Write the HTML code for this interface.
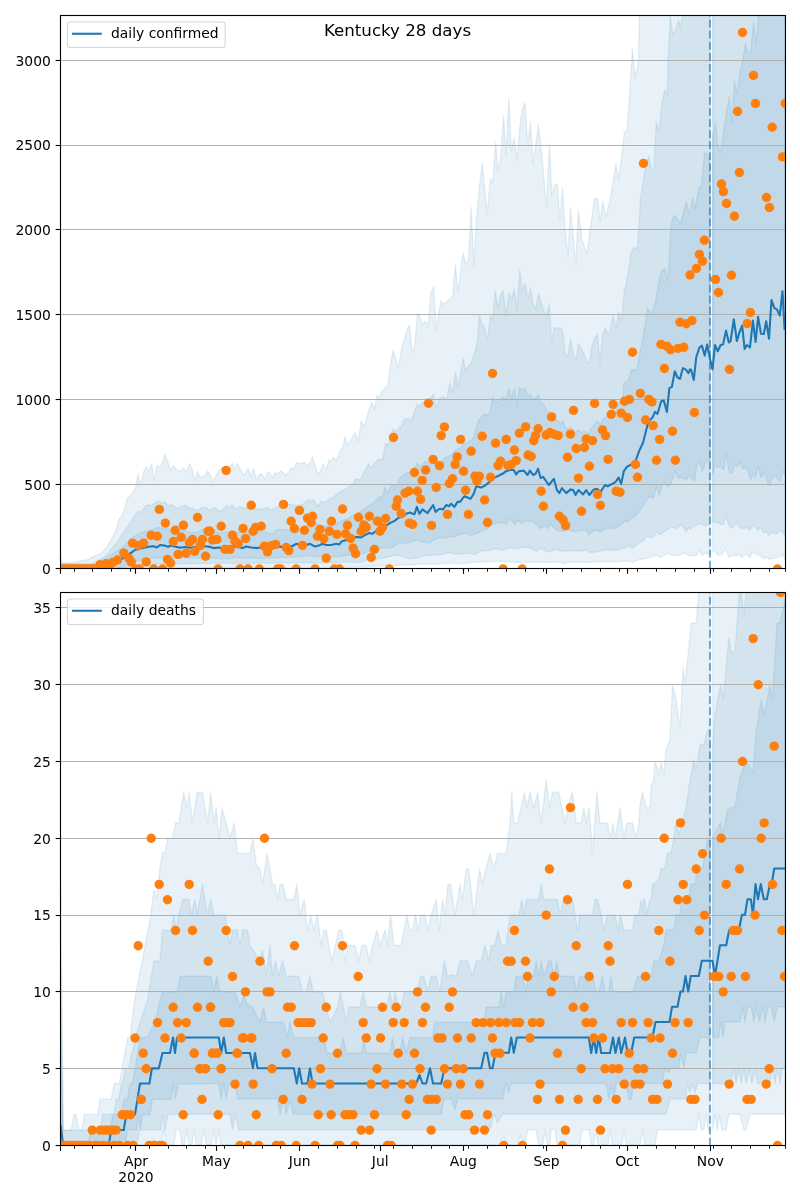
<!DOCTYPE html>
<html><head><meta charset="utf-8"><title>Kentucky 28 days</title>
<style>html,body{margin:0;padding:0;background:#fff}svg{display:block}</style></head>
<body>
<svg width="800" height="1200" viewBox="0 0 800 1200" font-family='"DejaVu Sans", "Liberation Sans", sans-serif' fill="#000">
<rect width="800" height="1200" fill="#fff"/>
<clipPath id="c1"><rect x="60.50" y="15.50" width="725.00" height="553.00"/></clipPath>
<g clip-path="url(#c1)">
<polygon points="60.5,556.8 62.5,562.8 73.0,562.8 79.0,561.2 84.2,560.1 88.0,559.8 91.8,557.5 99.2,554.1 101.5,553.0 106.0,548.1 109.8,542.5 115.0,532.5 119.4,518.8 122.5,515.0 127.5,498.1 131.2,495.0 135.6,487.5 138.1,474.4 140.6,485.6 143.8,471.2 146.2,466.2 148.8,471.9 151.5,463.8 154.4,480.0 156.9,465.6 160.6,466.9 165.0,454.4 168.1,462.5 170.6,471.2 173.1,465.6 176.9,470.0 180.0,471.2 183.8,467.5 186.2,472.5 189.4,463.8 191.9,468.1 195.0,481.2 197.5,471.2 200.0,476.9 204.4,476.2 207.5,471.2 210.0,475.0 213.1,481.9 216.2,475.6 219.4,470.0 223.1,466.9 228.8,468.8 232.2,462.8 234.4,470.0 237.5,463.8 240.6,470.0 244.4,475.6 248.1,468.1 251.2,476.9 253.5,468.1 256.2,479.4 260.0,473.8 261.9,473.8 265.0,479.4 267.5,471.9 270.0,473.1 272.5,478.1 275.0,472.5 278.1,473.8 280.6,470.6 286.2,475.0 291.9,467.5 293.8,469.4 296.2,462.5 301.2,463.8 304.4,462.2 307.5,465.6 310.0,463.1 312.5,456.9 318.1,475.6 323.1,464.4 326.2,470.0 328.8,460.0 330.6,461.9 333.8,457.5 336.2,461.2 340.0,451.2 343.1,446.2 345.0,436.2 347.5,444.4 351.2,440.0 355.0,432.5 358.1,441.2 361.2,421.2 363.8,426.0 366.9,418.8 368.0,412.5 371.8,402.0 374.3,410.2 377.0,395.2 379.2,397.5 382.2,391.5 385.2,387.8 387.5,387.0 390.5,364.5 393.2,350.2 398.3,367.5 401.8,348.0 407.0,330.0 409.6,324.8 412.2,352.5 414.8,346.5 417.5,313.5 419.8,316.5 422.8,324.8 425.4,321.0 428.0,327.0 431.0,292.5 433.6,286.5 436.2,330.0 440.8,300.8 443.8,304.5 447.5,300.8 452.8,296.2 455.4,264.0 458.0,291.8 463.2,252.8 465.8,264.0 468.5,259.5 471.2,207.0 473.8,265.5 476.5,219.0 479.5,186.0 482.2,162.8 487.3,214.5 490.3,178.5 492.7,183.0 495.6,142.5 498.2,170.2 500.8,156.8 503.5,115.5 506.2,154.5 508.8,98.2 511.4,151.5 514.0,138.0 517.0,160.5 520.0,124.5 522.2,109.5 525.0,102.8 527.8,146.2 530.5,121.5 533.0,164.2 535.8,145.5 538.3,124.5 541.0,147.8 544.0,178.5 546.5,207.0 549.5,144.0 551.8,196.5 554.5,185.2 557.2,184.5 560.0,219.0 562.5,187.5 565.0,228.8 568.0,255.8 570.5,207.0 573.2,237.8 575.8,264.8 578.4,210.6 582.2,240.6 586.9,253.6 594.4,198.4 597.8,199.0 600.0,221.9 602.8,201.2 605.6,217.2 610.3,199.4 615.9,163.8 618.8,179.7 624.4,131.9 626.8,131.5 630.0,90.6 632.4,48.4 635.1,77.5 638.4,62.5 639.4,15.6 710.1,-20.0 710.1,553.8 707.5,554.4 705.0,552.5 702.1,555.6 699.4,550.6 696.9,555.0 693.8,555.6 690.0,556.2 688.8,555.6 683.8,553.1 677.5,555.6 671.2,555.0 667.5,553.1 665.0,555.6 660.0,557.5 656.2,555.0 651.2,556.9 645.0,558.8 637.5,560.0 632.5,562.5 628.8,561.2 622.5,561.2 616.2,561.9 610.0,561.9 597.5,561.9 585.0,562.5 570.0,561.9 563.8,563.8 560.0,561.9 547.5,562.5 535.0,561.9 522.5,562.5 510.0,561.9 497.5,561.2 485.0,561.9 472.5,562.5 460.0,563.8 447.5,563.1 435.0,564.4 422.5,563.8 410.0,565.0 397.5,565.4 372.5,566.2 347.5,567.5 310.0,567.8 285.0,567.8 210.0,567.8 185.0,567.8 128.8,568.0 109.8,568.9 60.5,568.9" fill="#1f77b4" fill-opacity="0.10" stroke="#1f77b4" stroke-opacity="0.10" stroke-width="1.39" stroke-linejoin="round"/>
<polygon points="60.5,563.9 91.8,563.9 99.2,559.8 103.0,557.5 109.0,553.0 110.0,550.0 116.2,543.8 122.5,533.8 128.8,525.0 135.0,515.0 138.1,511.2 140.6,512.5 146.9,505.0 151.2,505.6 155.6,502.5 159.4,501.2 162.5,503.8 165.0,501.9 168.1,505.6 172.5,505.0 177.5,508.8 181.9,506.2 185.6,505.0 189.4,508.5 192.5,508.1 197.5,510.6 202.5,506.9 206.2,508.1 210.0,510.0 215.6,507.5 218.8,511.2 222.5,510.6 226.2,505.6 228.8,507.5 232.2,504.8 235.6,509.4 239.4,506.9 246.2,508.1 257.5,508.8 262.5,509.4 266.9,507.5 271.2,509.4 277.5,506.9 283.8,505.0 290.0,504.4 296.2,505.6 302.5,504.4 307.5,500.0 310.0,500.6 313.8,500.0 318.1,506.9 320.6,501.2 323.8,502.5 328.8,499.4 333.1,497.5 338.8,492.5 347.5,488.1 353.8,482.5 355.6,478.8 360.0,480.0 363.8,472.5 368.8,463.8 371.2,468.1 375.0,462.5 378.1,459.4 382.5,459.4 385.6,443.1 388.1,445.6 393.1,428.8 396.2,432.5 399.4,426.9 401.2,427.5 403.8,420.0 407.0,418.5 411.5,420.0 417.5,403.5 419.8,407.2 422.8,402.0 425.0,405.0 429.5,399.0 433.6,394.5 436.2,408.8 439.2,398.2 443.0,396.8 446.8,399.0 449.8,383.2 452.4,393.0 455.4,372.8 458.3,387.0 463.2,358.5 465.5,370.5 468.8,365.6 471.2,363.1 475.6,350.0 477.5,340.0 479.4,315.6 481.9,323.8 484.4,326.9 487.5,340.0 490.6,315.6 492.8,319.4 495.2,290.6 498.1,308.8 500.6,295.0 503.1,290.6 506.2,316.2 508.8,293.1 511.5,299.4 514.4,288.8 516.9,310.6 519.8,270.0 522.1,291.2 525.0,283.1 527.8,298.1 530.6,288.1 533.1,303.8 535.9,308.8 538.5,293.1 541.2,302.5 544.4,311.9 546.5,317.5 549.1,303.8 551.6,341.2 554.4,327.5 556.9,328.1 560.0,328.1 562.5,330.0 565.4,355.0 568.1,355.0 570.6,338.8 573.1,353.8 575.9,360.0 578.5,343.8 583.8,353.8 586.9,361.2 589.4,363.1 591.9,346.2 595.0,338.1 597.5,334.4 600.0,363.1 602.5,335.6 605.4,328.1 608.1,335.0 610.0,331.2 613.1,315.6 616.0,328.1 618.8,312.5 621.2,321.2 622.5,311.2 624.4,290.0 626.2,285.0 627.0,277.5 628.8,270.0 630.8,253.5 633.8,247.5 637.2,249.0 638.4,235.0 640.3,201.2 645.0,169.4 648.8,156.2 651.6,169.4 653.8,170.3 656.2,121.6 659.1,131.9 661.9,103.8 664.7,89.7 667.1,96.2 668.4,54.1 670.3,15.6 672.8,35.3 675.9,28.8 678.4,20.3 680.6,27.8 682.5,15.6 710.1,-20.0 710.1,523.8 708.8,524.4 705.6,526.2 701.2,523.8 697.5,524.4 693.8,526.2 690.0,529.4 688.8,526.9 686.2,531.9 681.2,524.4 676.2,528.8 671.2,526.9 665.0,531.2 660.0,534.4 656.2,532.5 652.5,538.1 647.5,536.2 642.5,541.2 637.5,543.8 632.5,548.1 628.8,545.6 625.0,548.1 620.0,549.4 615.0,550.6 610.0,550.0 603.8,550.0 597.5,551.9 590.0,552.5 586.2,550.0 580.0,551.2 572.5,550.6 562.5,551.2 555.0,549.4 548.8,551.9 541.2,548.8 536.2,551.2 532.5,548.8 525.0,546.9 516.2,548.8 510.0,548.1 502.5,550.0 495.0,548.8 487.5,550.6 480.0,551.2 475.0,554.4 466.2,553.1 457.5,554.4 450.0,552.5 441.2,554.4 432.5,555.0 425.0,555.6 417.5,557.5 410.0,558.8 397.5,555.0 385.0,557.5 378.8,558.8 372.5,560.6 366.2,560.0 360.0,562.5 347.5,561.9 335.0,563.1 322.5,563.1 310.0,562.5 285.0,562.8 260.0,563.1 235.0,563.5 210.0,563.1 185.0,563.8 160.0,564.0 141.2,565.0 128.8,567.5 109.8,568.8 60.5,568.8" fill="#1f77b4" fill-opacity="0.10" stroke="#1f77b4" stroke-opacity="0.10" stroke-width="1.39" stroke-linejoin="round"/>
<polygon points="60.5,564.4 95.5,563.9 100.0,561.2 106.8,557.5 109.4,555.9 110.0,555.0 117.5,551.2 125.0,545.0 132.5,537.5 136.2,535.0 142.5,531.9 147.5,531.2 152.5,529.4 157.5,527.5 162.5,528.1 170.0,529.4 177.5,530.6 185.0,530.0 190.0,532.5 197.5,531.9 205.0,528.1 210.0,532.5 215.0,530.0 218.8,533.1 225.0,531.9 232.5,531.2 238.8,532.5 247.5,531.9 257.5,532.5 265.0,531.9 272.5,533.8 276.2,530.0 281.2,529.4 288.8,530.0 297.5,529.4 305.0,527.5 310.0,525.0 317.5,523.8 322.5,526.2 328.8,525.0 335.0,523.8 341.2,521.2 347.5,518.8 353.8,515.0 360.0,512.5 366.2,507.5 372.5,503.8 378.8,497.5 382.5,496.2 385.0,486.9 387.5,493.8 391.2,485.0 396.2,486.2 400.0,477.5 405.0,473.8 410.0,471.9 415.0,467.5 417.5,463.1 420.0,466.9 425.0,461.2 428.8,463.8 435.0,461.2 441.2,461.9 445.0,457.5 448.8,456.2 452.5,453.8 455.6,450.0 460.0,448.1 463.8,443.8 468.8,441.9 473.8,437.5 476.2,427.5 478.8,420.0 481.2,417.5 485.0,413.8 487.5,415.6 490.0,412.5 492.5,396.9 495.0,401.2 498.1,401.9 503.1,396.9 506.2,399.4 508.8,388.8 511.9,398.8 514.4,388.1 516.9,406.2 519.4,387.5 522.1,390.0 525.0,388.1 527.5,395.0 530.0,394.4 533.1,398.8 535.6,398.1 538.5,395.0 541.2,402.5 543.8,404.4 546.9,411.2 550.0,412.5 552.5,417.5 557.5,420.0 561.2,423.8 563.1,421.2 565.6,428.8 571.2,427.5 575.0,432.5 578.1,430.0 581.2,432.5 585.0,431.2 588.8,433.8 592.5,426.2 597.5,421.2 600.0,425.0 602.5,420.0 616.2,406.2 622.5,399.4 623.8,383.8 626.2,381.2 628.8,380.6 631.2,370.0 634.4,369.4 636.9,370.0 639.4,356.2 642.5,340.0 645.0,325.0 647.5,308.1 650.0,311.2 651.9,313.1 654.4,306.2 657.5,290.0 660.0,276.2 661.9,270.0 665.0,268.8 667.5,280.0 668.8,270.0 670.3,235.0 672.2,219.1 675.0,215.3 680.6,223.8 686.2,201.2 689.1,213.4 692.8,197.5 694.7,208.8 699.4,186.2 701.2,187.2 704.6,152.5 707.8,154.4 710.1,165.6 710.1,461.2 707.5,461.2 705.0,464.4 702.1,471.9 699.4,460.0 696.9,465.0 694.4,481.2 690.0,476.9 688.8,475.0 686.2,480.0 681.2,477.5 678.1,478.8 675.0,470.6 671.2,483.8 667.5,486.9 665.0,483.1 662.5,484.4 659.4,495.0 656.2,485.6 653.8,498.1 650.0,496.9 647.5,498.8 643.8,505.0 640.0,510.0 636.2,515.0 631.2,518.8 626.9,521.9 624.4,521.2 622.5,523.8 618.8,525.6 615.0,528.8 610.0,528.1 605.0,528.8 600.0,531.9 597.5,530.0 592.5,531.2 588.8,535.0 586.2,530.0 581.2,530.6 575.0,531.9 568.8,530.0 562.5,531.2 556.9,530.6 553.8,527.5 550.6,523.8 547.5,528.8 545.0,525.0 540.6,528.8 536.9,525.0 532.5,521.2 525.6,520.6 521.9,523.8 518.1,520.6 515.0,524.4 510.0,518.8 506.2,523.8 502.5,523.1 497.5,522.5 492.5,524.4 487.5,528.8 481.2,531.2 475.0,534.4 470.0,535.6 466.2,533.1 460.0,534.4 455.0,536.9 450.0,536.2 445.0,538.8 441.2,537.5 435.0,539.4 428.8,543.1 422.5,541.9 416.2,540.0 410.0,542.5 403.8,543.1 397.5,543.8 391.2,548.1 385.0,547.5 378.8,548.8 372.5,550.6 366.2,552.5 360.0,553.8 353.8,555.0 347.5,555.0 341.2,556.2 335.0,556.9 328.8,557.5 322.5,556.2 316.2,556.9 310.0,555.6 300.0,556.5 290.0,557.2 280.0,557.5 270.0,558.1 260.0,558.5 250.0,557.8 242.5,558.5 235.0,557.5 228.8,558.8 216.2,558.5 210.0,557.5 197.5,558.1 185.0,558.1 172.5,558.1 162.5,557.5 152.5,558.1 142.5,559.4 135.0,561.9 122.5,566.9 109.8,568.8 60.5,568.8" fill="#1f77b4" fill-opacity="0.10" stroke="#1f77b4" stroke-opacity="0.10" stroke-width="1.39" stroke-linejoin="round"/>
<polygon points="712.8,-20.0 785.2,-20.0 785.2,558.8 784.6,558.8 782.5,554.4 780.0,556.2 775.0,558.1 770.0,559.4 766.2,556.9 763.8,558.8 760.0,555.6 756.2,554.4 752.5,551.9 750.0,558.1 747.5,555.0 744.4,554.4 741.9,557.5 738.8,553.8 736.2,556.2 733.8,555.0 728.8,557.5 725.6,548.1 722.5,553.8 718.1,555.0 715.0,551.2 712.8,551.9" fill="#1f77b4" fill-opacity="0.10" stroke="#1f77b4" stroke-opacity="0.10" stroke-width="1.39" stroke-linejoin="round"/>
<polygon points="712.8,-20.0 785.2,-20.0 785.2,535.6 784.6,535.6 783.1,531.9 780.0,530.6 776.2,534.4 772.5,532.5 768.8,535.0 766.2,531.9 763.8,533.1 760.6,526.9 758.1,530.0 752.5,525.0 750.0,530.6 746.9,527.5 741.2,528.8 736.2,522.5 731.9,528.1 728.8,525.0 725.9,515.6 723.1,525.0 720.0,523.8 715.6,522.5 712.8,521.9" fill="#1f77b4" fill-opacity="0.10" stroke="#1f77b4" stroke-opacity="0.10" stroke-width="1.39" stroke-linejoin="round"/>
<polygon points="712.8,135.0 713.8,135.0 715.6,122.5 718.1,147.5 720.6,152.5 723.1,135.0 726.2,113.8 729.4,96.9 731.9,123.1 734.4,81.2 736.9,94.4 740.0,72.5 743.1,57.5 745.4,43.1 748.1,53.1 750.6,52.5 753.5,21.9 756.0,45.0 758.5,16.2 785.2,-20.0 785.2,475.0 784.6,475.0 782.8,470.6 780.0,481.9 775.0,475.6 771.9,478.8 769.4,486.2 766.5,478.8 763.8,472.5 761.0,478.1 758.1,466.2 755.2,477.5 753.1,473.1 750.6,480.0 747.8,470.0 745.0,467.5 742.5,468.8 740.0,462.5 737.2,466.2 734.4,465.0 731.9,473.1 729.4,472.5 726.2,453.8 723.5,469.4 720.6,466.2 718.1,467.5 715.6,464.4 712.8,473.8" fill="#1f77b4" fill-opacity="0.10" stroke="#1f77b4" stroke-opacity="0.10" stroke-width="1.39" stroke-linejoin="round"/>
<line x1="60.50" x2="785.50" y1="484.50" y2="484.50" stroke="#b0b0b0" stroke-width="1.11"/>
<line x1="60.50" x2="785.50" y1="399.50" y2="399.50" stroke="#b0b0b0" stroke-width="1.11"/>
<line x1="60.50" x2="785.50" y1="314.50" y2="314.50" stroke="#b0b0b0" stroke-width="1.11"/>
<line x1="60.50" x2="785.50" y1="229.50" y2="229.50" stroke="#b0b0b0" stroke-width="1.11"/>
<line x1="60.50" x2="785.50" y1="145.50" y2="145.50" stroke="#b0b0b0" stroke-width="1.11"/>
<line x1="60.50" x2="785.50" y1="60.50" y2="60.50" stroke="#b0b0b0" stroke-width="1.11"/>
<polyline points="60.5,568.6 100.0,568.5 109.0,565.4 110.0,565.0 120.0,560.0 128.8,554.4 135.0,550.0 142.5,548.1 150.0,546.5 153.8,546.2 156.9,547.5 160.0,545.0 165.0,545.6 168.1,546.9 170.0,545.6 175.0,546.5 180.0,547.8 185.0,546.9 190.0,547.8 195.0,546.9 200.0,546.0 205.0,546.2 210.0,546.9 213.8,548.1 218.8,547.5 222.5,548.1 228.8,546.9 235.0,546.2 242.5,548.1 246.2,546.5 251.2,547.5 257.5,548.1 262.5,546.9 268.8,547.5 275.0,546.2 281.2,546.9 287.5,546.2 292.5,546.0 296.2,543.8 300.0,545.0 305.0,545.6 310.0,543.8 315.0,546.5 318.8,545.6 322.5,543.8 326.2,545.0 331.2,545.0 336.2,543.8 339.4,544.4 341.9,541.2 345.0,540.6 347.5,538.8 352.5,538.8 356.2,536.9 361.2,537.5 365.0,535.0 368.8,533.1 371.9,533.8 375.0,531.9 380.0,528.8 385.0,526.2 390.0,523.1 395.0,520.6 398.8,517.5 402.5,516.9 406.2,513.8 410.0,512.5 414.4,514.4 416.9,506.9 419.4,513.8 422.5,509.4 427.5,513.1 433.1,505.0 435.6,511.9 439.4,508.8 443.1,509.4 446.2,505.0 448.8,506.2 451.2,503.8 454.4,506.9 457.5,501.9 460.0,501.9 464.4,496.2 467.5,497.5 470.6,498.8 473.8,493.8 476.2,486.2 481.2,487.5 485.0,485.6 488.8,482.5 492.5,478.8 497.5,476.2 502.5,473.8 506.2,471.2 510.0,470.0 513.8,470.0 516.2,474.4 518.8,471.2 523.8,470.6 527.5,475.0 530.0,470.6 533.1,475.0 535.6,473.8 538.1,468.8 540.6,478.1 543.1,476.9 548.8,485.0 553.8,478.8 556.9,490.0 559.4,493.1 561.9,488.1 566.2,493.1 570.6,489.4 573.1,490.0 575.6,495.0 578.5,490.0 583.1,494.4 586.2,490.0 589.4,495.0 593.8,489.4 596.9,488.8 600.6,491.9 605.0,485.0 607.5,486.2 610.0,485.0 613.8,483.1 616.2,481.2 618.5,477.5 621.2,483.8 623.8,471.2 626.9,466.9 630.0,465.2 635.0,462.5 638.8,451.9 643.1,442.5 646.2,430.0 648.8,420.0 650.0,420.0 652.5,417.5 655.0,411.9 657.5,413.8 661.2,401.2 663.8,400.6 666.9,411.9 669.4,388.1 671.9,386.9 674.8,371.2 677.5,377.5 680.0,378.8 682.9,368.1 685.6,369.4 688.5,373.1 690.0,369.4 691.2,370.0 693.8,380.0 696.2,357.5 699.4,347.5 701.9,345.6 704.8,355.6 707.1,344.4 710.0,358.8 712.5,369.4 715.0,345.0 717.8,351.2 720.6,345.0 723.1,344.4 726.0,330.6 728.8,342.5 730.6,341.2 733.8,319.4 736.9,341.0 739.4,332.5 742.2,325.6 744.6,349.0 746.9,345.0 750.0,347.5 752.9,320.6 755.6,341.9 758.1,316.9 761.0,333.8 763.8,334.0 766.2,321.2 769.0,338.8 771.5,300.0 774.4,308.1 776.9,309.4 779.8,315.6 782.5,291.2 784.6,330.0" fill="none" stroke="#1f77b4" stroke-width="2.08" stroke-linejoin="round"/>
<line x1="709.99" x2="709.99" y1="568.50" y2="15.50" stroke="#1f77b4" stroke-opacity="0.6" stroke-width="2.08" stroke-dasharray="7.71,3.33"/>
<g fill="#ff7f0e">
<circle cx="60.5" cy="569.0" r="4.7"/>
<circle cx="63.2" cy="569.0" r="4.7"/>
<circle cx="65.9" cy="569.0" r="4.7"/>
<circle cx="68.6" cy="569.0" r="4.7"/>
<circle cx="71.2" cy="569.0" r="4.7"/>
<circle cx="73.9" cy="569.0" r="4.7"/>
<circle cx="76.6" cy="569.0" r="4.7"/>
<circle cx="79.3" cy="569.0" r="4.7"/>
<circle cx="82.0" cy="569.0" r="4.7"/>
<circle cx="84.7" cy="569.0" r="4.7"/>
<circle cx="87.3" cy="569.0" r="4.7"/>
<circle cx="90.0" cy="569.0" r="4.7"/>
<circle cx="92.7" cy="569.0" r="4.7"/>
<circle cx="96.2" cy="569.0" r="4.7"/>
<circle cx="100.0" cy="564.8" r="4.7"/>
<circle cx="103.1" cy="565.6" r="4.7"/>
<circle cx="106.2" cy="563.8" r="4.7"/>
<circle cx="110.0" cy="564.4" r="4.7"/>
<circle cx="123.8" cy="553.1" r="4.7"/>
<circle cx="117.5" cy="560.0" r="4.7"/>
<circle cx="112.5" cy="562.5" r="4.7"/>
<circle cx="128.8" cy="558.1" r="4.7"/>
<circle cx="131.2" cy="561.9" r="4.7"/>
<circle cx="132.5" cy="543.1" r="4.7"/>
<circle cx="138.5" cy="545.6" r="4.7"/>
<circle cx="143.5" cy="543.1" r="4.7"/>
<circle cx="146.2" cy="561.9" r="4.7"/>
<circle cx="151.2" cy="535.2" r="4.7"/>
<circle cx="157.2" cy="536.2" r="4.7"/>
<circle cx="159.4" cy="509.4" r="4.7"/>
<circle cx="165.4" cy="523.1" r="4.7"/>
<circle cx="167.5" cy="559.4" r="4.7"/>
<circle cx="170.6" cy="563.1" r="4.7"/>
<circle cx="173.4" cy="541.5" r="4.7"/>
<circle cx="175.2" cy="530.2" r="4.7"/>
<circle cx="178.1" cy="554.4" r="4.7"/>
<circle cx="181.2" cy="537.2" r="4.7"/>
<circle cx="183.4" cy="525.2" r="4.7"/>
<circle cx="186.2" cy="553.1" r="4.7"/>
<circle cx="189.4" cy="542.5" r="4.7"/>
<circle cx="192.5" cy="539.4" r="4.7"/>
<circle cx="194.8" cy="551.2" r="4.7"/>
<circle cx="197.5" cy="517.5" r="4.7"/>
<circle cx="200.2" cy="545.6" r="4.7"/>
<circle cx="202.5" cy="539.4" r="4.7"/>
<circle cx="205.6" cy="556.2" r="4.7"/>
<circle cx="208.1" cy="531.2" r="4.7"/>
<circle cx="135.6" cy="569.0" r="4.7"/>
<circle cx="139.4" cy="569.0" r="4.7"/>
<circle cx="153.8" cy="569.0" r="4.7"/>
<circle cx="162.5" cy="569.0" r="4.7"/>
<circle cx="226.2" cy="470.4" r="4.7"/>
<circle cx="251.2" cy="505.2" r="4.7"/>
<circle cx="283.5" cy="504.4" r="4.7"/>
<circle cx="299.4" cy="510.4" r="4.7"/>
<circle cx="221.2" cy="526.2" r="4.7"/>
<circle cx="243.1" cy="528.5" r="4.7"/>
<circle cx="261.2" cy="526.2" r="4.7"/>
<circle cx="255.6" cy="527.5" r="4.7"/>
<circle cx="253.1" cy="531.2" r="4.7"/>
<circle cx="232.5" cy="535.2" r="4.7"/>
<circle cx="245.6" cy="538.5" r="4.7"/>
<circle cx="291.2" cy="521.2" r="4.7"/>
<circle cx="294.4" cy="528.5" r="4.7"/>
<circle cx="304.4" cy="530.2" r="4.7"/>
<circle cx="307.5" cy="518.1" r="4.7"/>
<circle cx="210.0" cy="531.2" r="4.7"/>
<circle cx="212.5" cy="540.0" r="4.7"/>
<circle cx="216.9" cy="539.4" r="4.7"/>
<circle cx="235.0" cy="541.2" r="4.7"/>
<circle cx="238.1" cy="543.8" r="4.7"/>
<circle cx="225.0" cy="549.4" r="4.7"/>
<circle cx="230.0" cy="549.4" r="4.7"/>
<circle cx="264.4" cy="546.2" r="4.7"/>
<circle cx="267.5" cy="551.9" r="4.7"/>
<circle cx="271.2" cy="545.6" r="4.7"/>
<circle cx="275.6" cy="544.4" r="4.7"/>
<circle cx="286.2" cy="547.5" r="4.7"/>
<circle cx="288.8" cy="550.6" r="4.7"/>
<circle cx="302.5" cy="545.4" r="4.7"/>
<circle cx="218.1" cy="569.0" r="4.7"/>
<circle cx="240.0" cy="569.0" r="4.7"/>
<circle cx="248.1" cy="569.0" r="4.7"/>
<circle cx="259.4" cy="569.0" r="4.7"/>
<circle cx="277.5" cy="569.0" r="4.7"/>
<circle cx="280.6" cy="569.0" r="4.7"/>
<circle cx="296.2" cy="569.0" r="4.7"/>
<circle cx="393.5" cy="437.5" r="4.7"/>
<circle cx="342.5" cy="509.0" r="4.7"/>
<circle cx="312.5" cy="516.2" r="4.7"/>
<circle cx="311.2" cy="522.5" r="4.7"/>
<circle cx="331.5" cy="521.2" r="4.7"/>
<circle cx="320.0" cy="529.4" r="4.7"/>
<circle cx="317.5" cy="536.2" r="4.7"/>
<circle cx="323.8" cy="538.8" r="4.7"/>
<circle cx="329.4" cy="531.2" r="4.7"/>
<circle cx="336.9" cy="534.4" r="4.7"/>
<circle cx="345.6" cy="533.8" r="4.7"/>
<circle cx="347.5" cy="525.2" r="4.7"/>
<circle cx="350.6" cy="538.5" r="4.7"/>
<circle cx="353.1" cy="548.1" r="4.7"/>
<circle cx="355.6" cy="553.8" r="4.7"/>
<circle cx="326.2" cy="558.1" r="4.7"/>
<circle cx="358.5" cy="517.2" r="4.7"/>
<circle cx="369.4" cy="516.2" r="4.7"/>
<circle cx="363.8" cy="525.0" r="4.7"/>
<circle cx="366.2" cy="527.5" r="4.7"/>
<circle cx="361.2" cy="531.2" r="4.7"/>
<circle cx="377.5" cy="521.2" r="4.7"/>
<circle cx="385.6" cy="518.5" r="4.7"/>
<circle cx="382.5" cy="527.5" r="4.7"/>
<circle cx="380.0" cy="531.2" r="4.7"/>
<circle cx="374.4" cy="549.4" r="4.7"/>
<circle cx="371.2" cy="557.5" r="4.7"/>
<circle cx="397.5" cy="500.0" r="4.7"/>
<circle cx="396.2" cy="506.2" r="4.7"/>
<circle cx="405.0" cy="493.1" r="4.7"/>
<circle cx="408.8" cy="491.2" r="4.7"/>
<circle cx="401.2" cy="513.5" r="4.7"/>
<circle cx="409.4" cy="523.1" r="4.7"/>
<circle cx="315.0" cy="569.0" r="4.7"/>
<circle cx="334.4" cy="569.0" r="4.7"/>
<circle cx="339.4" cy="569.0" r="4.7"/>
<circle cx="389.4" cy="569.0" r="4.7"/>
<circle cx="428.4" cy="403.2" r="4.7"/>
<circle cx="444.4" cy="426.9" r="4.7"/>
<circle cx="441.2" cy="435.6" r="4.7"/>
<circle cx="460.6" cy="439.4" r="4.7"/>
<circle cx="482.2" cy="436.2" r="4.7"/>
<circle cx="495.6" cy="443.1" r="4.7"/>
<circle cx="506.2" cy="439.4" r="4.7"/>
<circle cx="471.2" cy="451.2" r="4.7"/>
<circle cx="457.2" cy="456.9" r="4.7"/>
<circle cx="455.2" cy="464.4" r="4.7"/>
<circle cx="433.1" cy="459.4" r="4.7"/>
<circle cx="439.4" cy="465.6" r="4.7"/>
<circle cx="425.6" cy="470.0" r="4.7"/>
<circle cx="414.4" cy="472.5" r="4.7"/>
<circle cx="422.2" cy="480.4" r="4.7"/>
<circle cx="417.5" cy="491.2" r="4.7"/>
<circle cx="420.6" cy="499.4" r="4.7"/>
<circle cx="436.2" cy="487.5" r="4.7"/>
<circle cx="452.5" cy="478.8" r="4.7"/>
<circle cx="449.4" cy="483.5" r="4.7"/>
<circle cx="463.5" cy="471.2" r="4.7"/>
<circle cx="465.6" cy="490.2" r="4.7"/>
<circle cx="475.0" cy="476.2" r="4.7"/>
<circle cx="479.4" cy="476.2" r="4.7"/>
<circle cx="476.9" cy="481.2" r="4.7"/>
<circle cx="490.6" cy="477.2" r="4.7"/>
<circle cx="500.6" cy="461.2" r="4.7"/>
<circle cx="498.1" cy="465.6" r="4.7"/>
<circle cx="508.1" cy="465.6" r="4.7"/>
<circle cx="484.6" cy="500.0" r="4.7"/>
<circle cx="447.5" cy="514.4" r="4.7"/>
<circle cx="468.4" cy="514.4" r="4.7"/>
<circle cx="487.5" cy="522.5" r="4.7"/>
<circle cx="431.5" cy="525.4" r="4.7"/>
<circle cx="412.5" cy="524.4" r="4.7"/>
<circle cx="503.1" cy="569.0" r="4.7"/>
<circle cx="492.5" cy="373.4" r="4.7"/>
<circle cx="643.5" cy="163.4" r="4.7"/>
<circle cx="742.5" cy="32.5" r="4.7"/>
<circle cx="753.5" cy="75.4" r="4.7"/>
<circle cx="755.4" cy="103.4" r="4.7"/>
<circle cx="737.5" cy="111.5" r="4.7"/>
<circle cx="785.2" cy="103.5" r="4.7"/>
<circle cx="772.2" cy="127.2" r="4.7"/>
<circle cx="782.5" cy="156.9" r="4.7"/>
<circle cx="739.4" cy="172.5" r="4.7"/>
<circle cx="721.5" cy="184.0" r="4.7"/>
<circle cx="723.4" cy="191.6" r="4.7"/>
<circle cx="726.5" cy="203.5" r="4.7"/>
<circle cx="734.4" cy="216.2" r="4.7"/>
<circle cx="766.5" cy="197.5" r="4.7"/>
<circle cx="769.4" cy="207.5" r="4.7"/>
<circle cx="704.4" cy="240.2" r="4.7"/>
<circle cx="699.4" cy="254.4" r="4.7"/>
<circle cx="702.5" cy="261.2" r="4.7"/>
<circle cx="696.5" cy="268.4" r="4.7"/>
<circle cx="690.0" cy="275.0" r="4.7"/>
<circle cx="715.4" cy="279.4" r="4.7"/>
<circle cx="731.5" cy="275.2" r="4.7"/>
<circle cx="718.5" cy="292.5" r="4.7"/>
<circle cx="750.4" cy="312.5" r="4.7"/>
<circle cx="747.2" cy="323.5" r="4.7"/>
<circle cx="691.9" cy="320.6" r="4.7"/>
<circle cx="729.4" cy="369.4" r="4.7"/>
<circle cx="694.4" cy="412.5" r="4.7"/>
<circle cx="777.5" cy="569.0" r="4.7"/>
<circle cx="525.6" cy="426.9" r="4.7"/>
<circle cx="519.4" cy="433.1" r="4.7"/>
<circle cx="538.1" cy="428.8" r="4.7"/>
<circle cx="535.6" cy="435.6" r="4.7"/>
<circle cx="533.8" cy="440.6" r="4.7"/>
<circle cx="546.2" cy="435.0" r="4.7"/>
<circle cx="550.0" cy="432.5" r="4.7"/>
<circle cx="554.4" cy="434.4" r="4.7"/>
<circle cx="558.1" cy="435.6" r="4.7"/>
<circle cx="570.4" cy="434.1" r="4.7"/>
<circle cx="514.4" cy="450.0" r="4.7"/>
<circle cx="528.1" cy="455.0" r="4.7"/>
<circle cx="531.2" cy="456.5" r="4.7"/>
<circle cx="516.2" cy="460.6" r="4.7"/>
<circle cx="511.2" cy="464.4" r="4.7"/>
<circle cx="567.5" cy="457.2" r="4.7"/>
<circle cx="576.2" cy="448.5" r="4.7"/>
<circle cx="584.4" cy="447.5" r="4.7"/>
<circle cx="586.2" cy="439.0" r="4.7"/>
<circle cx="592.5" cy="440.6" r="4.7"/>
<circle cx="602.5" cy="430.0" r="4.7"/>
<circle cx="605.6" cy="435.6" r="4.7"/>
<circle cx="608.1" cy="459.4" r="4.7"/>
<circle cx="589.4" cy="466.2" r="4.7"/>
<circle cx="578.5" cy="478.1" r="4.7"/>
<circle cx="541.2" cy="491.2" r="4.7"/>
<circle cx="543.4" cy="506.2" r="4.7"/>
<circle cx="559.4" cy="516.2" r="4.7"/>
<circle cx="563.1" cy="520.0" r="4.7"/>
<circle cx="565.6" cy="525.6" r="4.7"/>
<circle cx="581.5" cy="511.2" r="4.7"/>
<circle cx="597.5" cy="494.4" r="4.7"/>
<circle cx="600.4" cy="505.4" r="4.7"/>
<circle cx="522.2" cy="569.0" r="4.7"/>
<circle cx="551.6" cy="416.9" r="4.7"/>
<circle cx="573.5" cy="410.4" r="4.7"/>
<circle cx="594.6" cy="403.4" r="4.7"/>
<circle cx="680.0" cy="322.2" r="4.7"/>
<circle cx="686.2" cy="323.8" r="4.7"/>
<circle cx="661.0" cy="344.4" r="4.7"/>
<circle cx="666.9" cy="346.2" r="4.7"/>
<circle cx="670.4" cy="349.8" r="4.7"/>
<circle cx="678.1" cy="348.4" r="4.7"/>
<circle cx="683.8" cy="347.2" r="4.7"/>
<circle cx="632.5" cy="352.2" r="4.7"/>
<circle cx="664.4" cy="368.5" r="4.7"/>
<circle cx="640.4" cy="393.4" r="4.7"/>
<circle cx="629.4" cy="399.4" r="4.7"/>
<circle cx="624.4" cy="401.2" r="4.7"/>
<circle cx="648.8" cy="399.4" r="4.7"/>
<circle cx="651.9" cy="401.9" r="4.7"/>
<circle cx="613.1" cy="404.4" r="4.7"/>
<circle cx="611.2" cy="414.4" r="4.7"/>
<circle cx="621.2" cy="413.1" r="4.7"/>
<circle cx="627.5" cy="417.5" r="4.7"/>
<circle cx="645.6" cy="420.0" r="4.7"/>
<circle cx="653.1" cy="425.6" r="4.7"/>
<circle cx="672.5" cy="431.2" r="4.7"/>
<circle cx="659.6" cy="439.4" r="4.7"/>
<circle cx="635.4" cy="464.4" r="4.7"/>
<circle cx="656.5" cy="460.2" r="4.7"/>
<circle cx="675.4" cy="460.2" r="4.7"/>
<circle cx="637.5" cy="477.2" r="4.7"/>
<circle cx="616.2" cy="491.2" r="4.7"/>
<circle cx="620.0" cy="492.2" r="4.7"/>
</g>
</g>
<rect x="60.50" y="15.50" width="725.00" height="553.00" fill="none" stroke="#000" stroke-width="1.11"/>
<line x1="55.64" x2="60.50" y1="568.50" y2="568.50" stroke="#000" stroke-width="1.11"/>
<text x="50.80" y="573.80" text-anchor="end" font-size="13.89">0</text>
<line x1="55.64" x2="60.50" y1="484.50" y2="484.50" stroke="#000" stroke-width="1.11"/>
<text x="50.80" y="489.50" text-anchor="end" font-size="13.89">500</text>
<line x1="55.64" x2="60.50" y1="399.50" y2="399.50" stroke="#000" stroke-width="1.11"/>
<text x="50.80" y="404.70" text-anchor="end" font-size="13.89">1000</text>
<line x1="55.64" x2="60.50" y1="314.50" y2="314.50" stroke="#000" stroke-width="1.11"/>
<text x="50.80" y="319.90" text-anchor="end" font-size="13.89">1500</text>
<line x1="55.64" x2="60.50" y1="229.50" y2="229.50" stroke="#000" stroke-width="1.11"/>
<text x="50.80" y="235.10" text-anchor="end" font-size="13.89">2000</text>
<line x1="55.64" x2="60.50" y1="145.50" y2="145.50" stroke="#000" stroke-width="1.11"/>
<text x="50.80" y="150.30" text-anchor="end" font-size="13.89">2500</text>
<line x1="55.64" x2="60.50" y1="60.50" y2="60.50" stroke="#000" stroke-width="1.11"/>
<text x="50.80" y="65.50" text-anchor="end" font-size="13.89">3000</text>
<line x1="60.50" x2="60.50" y1="568.50" y2="573.86" stroke="#000" stroke-width="1.11"/>
<line x1="74.50" x2="74.50" y1="568.50" y2="571.78" stroke="#000" stroke-width="0.9"/>
<line x1="92.50" x2="92.50" y1="568.50" y2="571.78" stroke="#000" stroke-width="0.9"/>
<line x1="111.50" x2="111.50" y1="568.50" y2="571.78" stroke="#000" stroke-width="0.9"/>
<line x1="130.50" x2="130.50" y1="568.50" y2="571.78" stroke="#000" stroke-width="0.9"/>
<line x1="135.50" x2="135.50" y1="568.50" y2="573.86" stroke="#000" stroke-width="1.11"/>
<line x1="149.50" x2="149.50" y1="568.50" y2="571.78" stroke="#000" stroke-width="0.9"/>
<line x1="168.50" x2="168.50" y1="568.50" y2="571.78" stroke="#000" stroke-width="0.9"/>
<line x1="186.50" x2="186.50" y1="568.50" y2="571.78" stroke="#000" stroke-width="0.9"/>
<line x1="205.50" x2="205.50" y1="568.50" y2="571.78" stroke="#000" stroke-width="0.9"/>
<line x1="216.50" x2="216.50" y1="568.50" y2="573.86" stroke="#000" stroke-width="1.11"/>
<line x1="224.50" x2="224.50" y1="568.50" y2="571.78" stroke="#000" stroke-width="0.9"/>
<line x1="243.50" x2="243.50" y1="568.50" y2="571.78" stroke="#000" stroke-width="0.9"/>
<line x1="262.50" x2="262.50" y1="568.50" y2="571.78" stroke="#000" stroke-width="0.9"/>
<line x1="280.50" x2="280.50" y1="568.50" y2="571.78" stroke="#000" stroke-width="0.9"/>
<line x1="299.50" x2="299.50" y1="568.50" y2="573.86" stroke="#000" stroke-width="1.11"/>
<line x1="318.50" x2="318.50" y1="568.50" y2="571.78" stroke="#000" stroke-width="0.9"/>
<line x1="337.50" x2="337.50" y1="568.50" y2="571.78" stroke="#000" stroke-width="0.9"/>
<line x1="356.50" x2="356.50" y1="568.50" y2="571.78" stroke="#000" stroke-width="0.9"/>
<line x1="374.50" x2="374.50" y1="568.50" y2="571.78" stroke="#000" stroke-width="0.9"/>
<line x1="380.50" x2="380.50" y1="568.50" y2="573.86" stroke="#000" stroke-width="1.11"/>
<line x1="393.50" x2="393.50" y1="568.50" y2="571.78" stroke="#000" stroke-width="0.9"/>
<line x1="412.50" x2="412.50" y1="568.50" y2="571.78" stroke="#000" stroke-width="0.9"/>
<line x1="431.50" x2="431.50" y1="568.50" y2="571.78" stroke="#000" stroke-width="0.9"/>
<line x1="449.50" x2="449.50" y1="568.50" y2="571.78" stroke="#000" stroke-width="0.9"/>
<line x1="463.50" x2="463.50" y1="568.50" y2="573.86" stroke="#000" stroke-width="1.11"/>
<line x1="468.50" x2="468.50" y1="568.50" y2="571.78" stroke="#000" stroke-width="0.9"/>
<line x1="487.50" x2="487.50" y1="568.50" y2="571.78" stroke="#000" stroke-width="0.9"/>
<line x1="506.50" x2="506.50" y1="568.50" y2="571.78" stroke="#000" stroke-width="0.9"/>
<line x1="525.50" x2="525.50" y1="568.50" y2="571.78" stroke="#000" stroke-width="0.9"/>
<line x1="543.50" x2="543.50" y1="568.50" y2="571.78" stroke="#000" stroke-width="0.9"/>
<line x1="546.50" x2="546.50" y1="568.50" y2="573.86" stroke="#000" stroke-width="1.11"/>
<line x1="562.50" x2="562.50" y1="568.50" y2="571.78" stroke="#000" stroke-width="0.9"/>
<line x1="581.50" x2="581.50" y1="568.50" y2="571.78" stroke="#000" stroke-width="0.9"/>
<line x1="600.50" x2="600.50" y1="568.50" y2="571.78" stroke="#000" stroke-width="0.9"/>
<line x1="619.50" x2="619.50" y1="568.50" y2="571.78" stroke="#000" stroke-width="0.9"/>
<line x1="627.50" x2="627.50" y1="568.50" y2="573.86" stroke="#000" stroke-width="1.11"/>
<line x1="637.50" x2="637.50" y1="568.50" y2="571.78" stroke="#000" stroke-width="0.9"/>
<line x1="656.50" x2="656.50" y1="568.50" y2="571.78" stroke="#000" stroke-width="0.9"/>
<line x1="675.50" x2="675.50" y1="568.50" y2="571.78" stroke="#000" stroke-width="0.9"/>
<line x1="694.50" x2="694.50" y1="568.50" y2="571.78" stroke="#000" stroke-width="0.9"/>
<line x1="710.50" x2="710.50" y1="568.50" y2="573.86" stroke="#000" stroke-width="1.11"/>
<line x1="713.50" x2="713.50" y1="568.50" y2="571.78" stroke="#000" stroke-width="0.9"/>
<line x1="731.50" x2="731.50" y1="568.50" y2="571.78" stroke="#000" stroke-width="0.9"/>
<line x1="750.50" x2="750.50" y1="568.50" y2="571.78" stroke="#000" stroke-width="0.9"/>
<line x1="769.50" x2="769.50" y1="568.50" y2="571.78" stroke="#000" stroke-width="0.9"/>
<line x1="785.50" x2="785.50" y1="568.50" y2="571.78" stroke="#000" stroke-width="0.9"/>
<rect x="67.44" y="22.00" width="157.71" height="25.5" rx="2.8" fill="#fff" fill-opacity="0.8" stroke="#ccc" stroke-opacity="0.8" stroke-width="1.11"/>
<line x1="73.00" x2="100.78" y1="33.75" y2="33.75" stroke="#1f77b4" stroke-width="2.08" stroke-linecap="square"/>
<text x="110.99" y="37.60" font-size="13.89">daily confirmed</text>
<clipPath id="c2"><rect x="60.50" y="592.50" width="725.00" height="553.00"/></clipPath>
<g clip-path="url(#c2)">
<polygon points="60.5,880.0 63.2,1130.1 71.2,1130.0 74.0,1114.4 76.0,1114.4 78.8,1130.0 81.9,1130.0 84.6,1114.4 97.5,1114.4 100.2,1098.9 111.2,1098.9 114.4,1083.5 119.4,1083.5 122.1,1068.4 125.0,1053.0 127.5,1037.5 130.0,1037.5 135.0,997.5 142.5,960.0 150.0,920.0 153.8,890.0 156.8,897.5 160.0,867.5 162.5,852.5 165.0,852.5 167.5,838.2 172.5,838.2 175.5,823.0 178.8,823.0 183.8,792.2 186.8,807.5 189.2,792.2 192.5,823.0 197.0,792.2 202.5,792.2 207.5,823.0 210.8,792.2 213.8,823.0 216.2,807.5 219.2,838.2 222.0,807.5 230.0,838.2 234.2,823.0 237.5,853.5 250.0,853.5 253.0,838.2 256.2,865.0 260.0,869.0 262.5,884.2 267.0,853.5 272.5,884.2 275.0,884.2 277.5,899.5 280.0,884.2 283.0,884.2 286.2,899.5 293.8,899.5 296.8,884.2 300.0,915.0 304.2,899.5 307.5,930.2 310.8,915.0 313.8,930.2 317.5,915.0 321.2,945.5 323.8,930.2 326.2,930.2 331.8,961.0 338.8,930.2 342.0,930.2 345.0,961.0 348.0,945.5 355.0,945.5 358.8,961.0 361.8,945.5 366.2,945.5 369.2,961.0 372.5,945.5 377.0,930.2 380.0,945.5 385.0,930.2 387.5,945.5 390.5,915.0 394.2,945.5 401.2,945.5 406.8,915.0 410.0,930.2 412.5,930.2 415.5,915.0 418.0,930.2 420.8,915.0 425.0,915.0 427.5,930.2 431.2,915.0 436.2,899.5 439.2,930.2 442.5,899.5 445.0,915.0 448.0,884.2 450.5,884.2 455.0,915.0 460.0,884.2 462.5,899.5 466.2,869.0 468.8,869.0 473.8,915.0 479.5,869.0 482.5,884.2 485.8,869.0 490.0,853.5 493.8,869.0 497.5,853.5 506.2,853.5 510.0,823.0 511.8,792.2 513.8,823.0 517.5,823.0 521.2,807.5 524.5,792.2 527.0,807.5 530.0,792.2 533.8,807.5 537.5,792.2 541.2,823.0 546.2,780.0 549.5,807.5 552.5,792.2 558.8,792.2 565.0,823.0 567.5,807.5 572.5,792.2 576.2,823.0 581.2,823.0 583.8,807.5 586.2,823.0 589.2,807.5 592.5,853.5 597.0,792.2 600.0,823.0 607.5,823.0 610.8,838.2 613.0,823.0 615.5,838.2 620.0,807.5 623.8,838.2 627.0,823.0 632.5,823.0 635.8,838.2 638.8,823.0 640.0,805.0 642.5,792.2 646.2,807.5 647.5,807.5 650.0,807.5 651.2,785.0 653.8,780.0 655.0,762.5 657.5,767.5 658.8,775.0 661.2,762.5 663.8,775.0 666.2,747.5 670.0,740.0 672.5,685.0 676.2,700.0 680.0,730.0 683.0,667.5 685.0,682.5 687.5,660.0 691.2,623.0 696.2,623.0 698.8,592.5 699.5,560.0 710.1,560.0 710.1,1129.8 708.0,1129.8 706.2,1114.2 703.8,1129.8 701.2,1129.8 698.8,1114.2 696.2,1129.8 657.5,1129.8 655.0,1145.0 645.0,1145.0 642.5,1129.8 640.0,1145.0 626.2,1145.0 624.0,1129.8 622.0,1145.0 612.5,1145.0 610.0,1129.8 608.0,1145.0 598.0,1145.0 595.5,1129.8 593.8,1145.0 591.2,1145.0 588.8,1129.8 582.0,1129.8 580.0,1145.0 557.0,1145.0 555.0,1129.8 551.2,1129.8 549.5,1145.0 547.5,1145.0 545.0,1129.8 543.0,1145.0 538.8,1145.0 536.2,1129.8 527.5,1129.8 525.0,1145.0 523.0,1145.0 520.5,1135.0 517.5,1145.0 506.2,1145.0 503.8,1135.0 500.0,1145.0 340.0,1145.0 221.0,1145.0 218.5,1129.8 216.0,1145.0 213.8,1129.8 211.2,1145.0 206.2,1145.0 203.8,1129.8 201.2,1145.0 196.2,1145.0 194.0,1129.8 191.8,1145.0 188.8,1145.0 186.5,1129.8 184.2,1145.0 182.0,1145.0 179.5,1129.8 176.2,1129.8 173.8,1145.0 166.2,1145.0 163.8,1129.8 161.2,1145.0 65.0,1145.0 60.5,1145.0" fill="#1f77b4" fill-opacity="0.10" stroke="#1f77b4" stroke-opacity="0.10" stroke-width="1.39" stroke-linejoin="round"/>
<polygon points="60.5,950.0 63.2,1130.1 100.0,1130.0 102.8,1114.4 113.8,1114.4 116.5,1098.9 118.8,1098.9 121.5,1083.5 122.5,1083.5 125.2,1068.4 128.8,1068.4 131.5,1053.0 132.5,1053.0 135.2,1037.5 147.5,1000.0 153.8,961.0 160.0,961.0 162.5,930.2 171.2,930.2 173.8,915.0 176.2,930.2 178.8,915.0 182.5,899.5 188.8,899.5 191.2,915.0 195.0,899.5 197.0,915.0 202.5,884.2 207.5,915.0 210.8,899.5 213.8,915.0 225.0,915.0 227.5,930.2 230.0,945.5 232.5,930.2 237.5,930.2 240.0,945.5 242.5,930.2 247.5,930.2 250.0,945.5 260.0,961.0 262.5,950.0 266.2,976.2 270.0,945.5 272.5,976.2 275.5,961.0 278.8,976.2 282.5,961.0 286.2,976.2 298.8,976.2 302.5,991.8 306.2,991.8 310.0,976.2 313.0,991.8 322.5,991.8 326.2,1007.0 330.0,1022.2 337.5,1007.0 340.5,991.8 346.2,1022.2 348.8,1007.0 360.0,1007.0 363.2,991.8 366.2,1007.0 386.2,1007.0 390.0,991.8 392.5,1007.0 395.0,991.8 398.8,1007.0 401.2,1007.0 404.2,991.8 417.5,991.8 420.5,976.2 423.8,976.2 427.5,991.8 431.2,976.2 436.2,976.2 440.0,991.8 444.2,961.0 447.5,976.2 451.2,975.0 456.2,976.2 460.0,961.0 467.5,961.0 472.5,976.2 476.2,961.0 481.2,961.0 485.0,945.5 488.8,961.0 491.2,945.5 495.0,945.5 498.0,930.2 501.2,945.5 506.2,945.5 510.0,915.0 518.8,915.0 521.8,899.5 524.2,915.0 526.2,899.5 538.8,899.5 541.2,884.2 543.8,899.5 557.5,899.5 560.0,915.0 563.8,899.5 572.5,899.5 575.0,915.0 577.5,930.2 580.0,915.0 592.5,915.0 595.0,899.5 597.5,899.5 601.2,915.0 603.8,930.2 607.5,915.0 615.0,915.0 618.0,930.2 620.5,915.0 623.8,930.2 632.5,930.2 635.0,915.0 638.8,915.0 641.2,899.5 642.5,912.5 643.8,899.5 645.0,899.2 646.2,915.0 650.0,899.5 651.2,899.2 652.5,884.0 653.8,884.2 658.8,880.0 661.2,868.5 665.0,868.5 667.5,853.2 671.2,852.5 673.8,838.2 676.2,823.0 678.8,835.0 682.5,820.0 686.2,807.5 690.0,780.0 693.8,760.0 696.2,770.0 700.0,745.0 703.8,745.0 707.5,730.0 710.1,730.0 710.1,1083.5 697.5,1083.5 695.0,1092.5 692.5,1083.5 690.0,1092.5 687.5,1083.5 685.0,1099.0 670.0,1099.0 666.2,1114.2 540.0,1114.2 538.8,1114.2 502.5,1114.2 497.5,1122.5 493.8,1114.2 490.0,1129.8 340.0,1129.8 238.8,1129.8 235.0,1114.2 232.5,1129.8 230.0,1114.2 171.2,1114.2 167.5,1114.8 165.0,1130.1 162.5,1114.8 160.6,1130.1 139.4,1130.1 136.9,1145.5 62.5,1145.5 60.5,1145.5" fill="#1f77b4" fill-opacity="0.10" stroke="#1f77b4" stroke-opacity="0.10" stroke-width="1.39" stroke-linejoin="round"/>
<polygon points="60.5,1030.0 63.2,1145.5 88.1,1145.0 90.6,1130.0 110.0,1130.0 112.8,1114.4 121.2,1114.4 124.0,1098.9 127.5,1098.9 130.2,1083.5 132.5,1083.5 135.2,1068.4 137.8,1053.0 140.0,1037.5 147.5,1037.5 155.0,1022.2 160.0,1000.0 162.5,991.8 177.5,991.8 180.0,976.2 211.2,976.2 213.8,991.8 216.8,976.2 220.0,991.8 235.0,991.8 240.0,1007.0 243.8,995.0 247.5,1005.0 252.5,1007.0 260.0,1022.2 263.8,1007.0 266.2,1022.2 283.8,1022.2 287.0,1037.5 290.0,1022.2 293.8,1037.5 323.8,1037.5 327.0,1053.0 340.0,1053.0 343.2,1037.5 346.2,1053.0 361.2,1053.0 363.8,1040.0 366.2,1053.0 390.0,1053.0 392.5,1037.5 395.0,1053.0 400.0,1053.0 402.5,1037.5 406.2,1053.0 410.0,1037.5 432.5,1037.5 435.0,1022.2 457.5,1022.2 460.0,1022.2 483.8,1022.2 486.2,1007.0 498.8,1007.0 501.2,991.8 503.8,1007.0 506.2,991.8 513.8,991.8 516.2,976.2 522.5,976.2 525.5,991.8 528.8,976.2 533.8,976.2 536.2,961.0 538.8,976.2 541.2,961.0 543.8,976.2 548.8,961.0 551.2,961.0 553.8,976.2 556.8,961.0 559.2,976.2 573.8,976.2 576.2,991.8 580.0,976.2 592.5,976.2 596.2,991.8 598.8,991.8 602.5,976.2 605.0,991.8 608.8,991.8 610.8,976.2 613.2,991.8 632.5,991.8 637.5,976.2 651.2,976.2 653.8,961.0 658.8,961.0 663.8,945.2 666.2,930.0 673.8,930.0 676.2,914.8 680.0,914.8 682.0,899.2 688.8,899.2 690.8,884.0 695.0,884.0 697.5,868.5 702.5,868.5 705.0,853.2 707.5,838.2 710.1,838.2 710.1,1037.5 700.0,1037.5 696.2,1052.8 686.2,1052.8 683.8,1068.2 681.2,1052.8 678.8,1068.2 671.2,1068.2 668.8,1072.5 665.0,1068.2 662.5,1083.5 633.8,1083.5 631.2,1099.0 628.8,1099.0 626.2,1083.5 616.2,1083.5 613.8,1099.0 611.2,1087.5 608.8,1099.0 606.2,1083.5 540.0,1083.5 538.8,1083.5 511.2,1083.5 508.8,1092.5 506.2,1083.5 502.5,1099.0 457.5,1099.0 455.0,1110.0 451.2,1099.0 443.8,1099.0 441.2,1114.2 340.0,1114.2 293.0,1114.2 290.0,1100.0 286.2,1114.2 283.8,1099.0 280.0,1114.2 277.5,1099.0 237.5,1099.0 235.0,1083.5 228.8,1083.5 226.2,1099.0 223.8,1083.5 221.2,1099.0 218.8,1083.5 178.1,1084.0 175.6,1099.4 173.1,1084.0 171.2,1099.4 152.5,1099.4 150.0,1114.8 142.2,1114.8 140.6,1130.1 138.1,1114.8 136.9,1130.1 127.5,1130.1 125.0,1145.5 62.5,1145.5 60.5,1145.5" fill="#1f77b4" fill-opacity="0.10" stroke="#1f77b4" stroke-opacity="0.10" stroke-width="1.39" stroke-linejoin="round"/>
<polygon points="712.8,560.0 785.2,560.0 785.2,1114.2 750.0,1114.2 746.2,1129.8 743.8,1129.8 740.0,1114.2 728.8,1114.2 726.2,1129.8 721.8,1129.8 719.2,1114.2 717.5,1129.8 715.0,1114.2 712.8,1129.8" fill="#1f77b4" fill-opacity="0.10" stroke="#1f77b4" stroke-opacity="0.10" stroke-width="1.39" stroke-linejoin="round"/>
<polygon points="712.8,745.0 715.0,715.0 718.0,697.5 720.5,685.0 723.0,698.8 726.2,667.5 728.8,638.2 732.0,653.8 735.0,650.5 737.5,617.5 739.2,592.5 741.2,592.5 743.8,616.2 746.2,592.5 785.2,560.0 785.2,1068.2 782.5,1068.2 780.0,1083.5 777.5,1068.2 775.0,1083.5 772.5,1068.2 770.0,1083.5 757.5,1083.5 755.0,1068.2 751.8,1083.5 749.2,1068.2 746.2,1083.5 743.8,1068.2 741.2,1083.5 738.8,1068.2 736.2,1083.5 733.8,1068.2 731.2,1083.5 712.8,1083.5" fill="#1f77b4" fill-opacity="0.10" stroke="#1f77b4" stroke-opacity="0.10" stroke-width="1.39" stroke-linejoin="round"/>
<polygon points="712.8,837.5 720.5,822.5 722.5,835.0 727.5,810.0 735.0,806.2 740.0,777.5 746.2,760.0 753.0,772.5 756.2,731.2 761.2,700.0 764.2,715.0 770.0,685.0 772.5,698.8 777.0,623.0 780.0,623.0 785.2,600.0 785.2,1006.8 777.0,1006.8 774.2,1022.0 771.2,1006.8 768.0,1006.8 765.0,1022.0 762.5,1006.8 759.5,1022.0 756.2,1006.8 753.8,1022.0 751.2,1006.8 748.0,1006.8 745.0,1022.0 742.5,1006.8 740.0,1022.0 725.0,1022.0 723.0,1037.5 720.5,1022.0 718.8,1037.5 712.8,1037.5" fill="#1f77b4" fill-opacity="0.10" stroke="#1f77b4" stroke-opacity="0.10" stroke-width="1.39" stroke-linejoin="round"/>
<line x1="60.50" x2="785.50" y1="1068.50" y2="1068.50" stroke="#b0b0b0" stroke-width="1.11"/>
<line x1="60.50" x2="785.50" y1="991.50" y2="991.50" stroke="#b0b0b0" stroke-width="1.11"/>
<line x1="60.50" x2="785.50" y1="915.50" y2="915.50" stroke="#b0b0b0" stroke-width="1.11"/>
<line x1="60.50" x2="785.50" y1="838.50" y2="838.50" stroke="#b0b0b0" stroke-width="1.11"/>
<line x1="60.50" x2="785.50" y1="761.50" y2="761.50" stroke="#b0b0b0" stroke-width="1.11"/>
<line x1="60.50" x2="785.50" y1="684.50" y2="684.50" stroke="#b0b0b0" stroke-width="1.11"/>
<line x1="60.50" x2="785.50" y1="607.50" y2="607.50" stroke="#b0b0b0" stroke-width="1.11"/>
<polyline points="60.5,1125.0 63.2,1145.5 108.8,1145.0 111.2,1130.0 123.8,1130.0 126.2,1114.4 135.0,1114.4 137.5,1098.9 140.0,1083.5 142.5,1083.5 149.4,1083.5 151.9,1068.4 158.8,1068.4 162.5,1053.0 170.0,1053.0 173.0,1037.5 175.0,1053.0 177.0,1037.5 180.0,1040.0 186.2,1037.5 218.8,1037.5 221.2,1053.0 223.8,1037.5 226.2,1053.0 250.0,1053.0 253.0,1068.2 255.0,1053.0 257.5,1068.2 293.8,1068.2 296.8,1083.5 299.2,1068.2 302.0,1083.5 307.5,1083.5 310.0,1068.2 312.5,1083.5 340.0,1083.5 341.2,1083.5 416.2,1083.5 419.5,1075.0 422.5,1083.5 426.2,1083.5 430.0,1068.2 433.0,1083.5 441.2,1083.5 444.5,1068.2 481.2,1068.2 484.5,1052.8 487.0,1052.8 490.0,1068.2 492.5,1068.2 495.5,1052.8 508.8,1052.8 511.2,1037.5 513.8,1052.8 516.8,1037.5 538.8,1037.5 588.8,1037.5 591.2,1053.0 593.8,1037.5 596.2,1053.0 598.8,1037.5 601.2,1053.0 610.0,1053.0 613.0,1037.5 615.5,1053.0 618.8,1037.5 621.2,1053.0 625.0,1037.5 627.5,1053.0 631.2,1053.0 634.2,1037.5 652.5,1037.5 655.5,1022.0 669.5,1022.0 672.0,1006.8 677.5,1006.8 680.5,991.5 683.0,991.5 685.5,976.0 688.2,991.5 690.8,976.0 698.8,976.0 701.8,960.8 712.5,960.8 715.0,976.0 720.0,945.2 726.2,945.2 729.2,930.0 738.8,930.0 742.0,914.8 745.0,914.8 747.5,899.2 750.8,899.2 753.0,914.8 755.5,884.0 758.0,899.2 760.8,884.0 763.8,899.2 766.8,899.2 770.0,884.0 771.8,884.0 774.2,868.5 785.5,868.5" fill="none" stroke="#1f77b4" stroke-width="2.08" stroke-linejoin="round"/>
<line x1="709.99" x2="709.99" y1="1145.50" y2="592.50" stroke="#1f77b4" stroke-opacity="0.6" stroke-width="2.08" stroke-dasharray="7.71,3.33"/>
<g fill="#ff7f0e">
<circle cx="60.5" cy="1145.5" r="4.7"/>
<circle cx="63.2" cy="1145.5" r="4.7"/>
<circle cx="65.9" cy="1145.5" r="4.7"/>
<circle cx="68.6" cy="1145.5" r="4.7"/>
<circle cx="71.2" cy="1145.5" r="4.7"/>
<circle cx="73.9" cy="1145.5" r="4.7"/>
<circle cx="76.6" cy="1145.5" r="4.7"/>
<circle cx="79.3" cy="1145.5" r="4.7"/>
<circle cx="82.0" cy="1145.5" r="4.7"/>
<circle cx="84.7" cy="1145.5" r="4.7"/>
<circle cx="87.3" cy="1145.5" r="4.7"/>
<circle cx="90.0" cy="1145.5" r="4.7"/>
<circle cx="95.4" cy="1145.5" r="4.7"/>
<circle cx="98.1" cy="1145.5" r="4.7"/>
<circle cx="103.4" cy="1145.5" r="4.7"/>
<circle cx="108.8" cy="1145.5" r="4.7"/>
<circle cx="114.2" cy="1145.5" r="4.7"/>
<circle cx="119.5" cy="1145.5" r="4.7"/>
<circle cx="127.6" cy="1145.5" r="4.7"/>
<circle cx="133.0" cy="1145.5" r="4.7"/>
<circle cx="149.1" cy="1145.5" r="4.7"/>
<circle cx="154.4" cy="1145.5" r="4.7"/>
<circle cx="159.8" cy="1145.5" r="4.7"/>
<circle cx="92.2" cy="1130.1" r="4.7"/>
<circle cx="100.2" cy="1130.1" r="4.7"/>
<circle cx="103.8" cy="1130.1" r="4.7"/>
<circle cx="106.9" cy="1130.1" r="4.7"/>
<circle cx="110.0" cy="1130.1" r="4.7"/>
<circle cx="113.1" cy="1130.1" r="4.7"/>
<circle cx="116.2" cy="1130.1" r="4.7"/>
<circle cx="122.1" cy="1114.8" r="4.7"/>
<circle cx="126.2" cy="1114.8" r="4.7"/>
<circle cx="130.6" cy="1114.8" r="4.7"/>
<circle cx="141.2" cy="1099.4" r="4.7"/>
<circle cx="151.2" cy="838.3" r="4.7"/>
<circle cx="159.2" cy="884.4" r="4.7"/>
<circle cx="189.2" cy="884.4" r="4.7"/>
<circle cx="167.5" cy="899.7" r="4.7"/>
<circle cx="175.5" cy="930.5" r="4.7"/>
<circle cx="192.5" cy="930.5" r="4.7"/>
<circle cx="226.2" cy="930.5" r="4.7"/>
<circle cx="138.2" cy="945.8" r="4.7"/>
<circle cx="208.2" cy="961.2" r="4.7"/>
<circle cx="260.0" cy="961.2" r="4.7"/>
<circle cx="232.5" cy="976.5" r="4.7"/>
<circle cx="245.5" cy="991.9" r="4.7"/>
<circle cx="173.2" cy="1007.3" r="4.7"/>
<circle cx="197.5" cy="1007.3" r="4.7"/>
<circle cx="210.5" cy="1007.3" r="4.7"/>
<circle cx="157.5" cy="1022.6" r="4.7"/>
<circle cx="177.5" cy="1022.6" r="4.7"/>
<circle cx="186.2" cy="1022.6" r="4.7"/>
<circle cx="223.8" cy="1022.6" r="4.7"/>
<circle cx="230.0" cy="1022.6" r="4.7"/>
<circle cx="135.0" cy="1038.0" r="4.7"/>
<circle cx="165.0" cy="1038.0" r="4.7"/>
<circle cx="181.2" cy="1038.0" r="4.7"/>
<circle cx="243.8" cy="1038.0" r="4.7"/>
<circle cx="251.8" cy="1038.0" r="4.7"/>
<circle cx="143.2" cy="1053.3" r="4.7"/>
<circle cx="194.2" cy="1053.3" r="4.7"/>
<circle cx="212.5" cy="1053.3" r="4.7"/>
<circle cx="217.0" cy="1053.3" r="4.7"/>
<circle cx="237.0" cy="1053.3" r="4.7"/>
<circle cx="146.2" cy="1068.7" r="4.7"/>
<circle cx="200.0" cy="1068.7" r="4.7"/>
<circle cx="205.5" cy="1068.7" r="4.7"/>
<circle cx="221.2" cy="1068.7" r="4.7"/>
<circle cx="210.5" cy="1007.3" r="4.7"/>
<circle cx="287.5" cy="1007.3" r="4.7"/>
<circle cx="291.2" cy="1007.3" r="4.7"/>
<circle cx="326.2" cy="1007.3" r="4.7"/>
<circle cx="224.5" cy="1022.6" r="4.7"/>
<circle cx="229.2" cy="1022.6" r="4.7"/>
<circle cx="298.2" cy="1022.6" r="4.7"/>
<circle cx="302.5" cy="1022.6" r="4.7"/>
<circle cx="307.0" cy="1022.6" r="4.7"/>
<circle cx="311.2" cy="1022.6" r="4.7"/>
<circle cx="242.5" cy="1038.0" r="4.7"/>
<circle cx="251.2" cy="1038.0" r="4.7"/>
<circle cx="323.2" cy="1038.0" r="4.7"/>
<circle cx="194.2" cy="1053.3" r="4.7"/>
<circle cx="212.5" cy="1053.3" r="4.7"/>
<circle cx="217.0" cy="1053.3" r="4.7"/>
<circle cx="237.5" cy="1053.3" r="4.7"/>
<circle cx="286.2" cy="1053.3" r="4.7"/>
<circle cx="337.5" cy="1053.3" r="4.7"/>
<circle cx="200.0" cy="1068.7" r="4.7"/>
<circle cx="205.5" cy="1068.7" r="4.7"/>
<circle cx="221.2" cy="1068.7" r="4.7"/>
<circle cx="272.0" cy="1068.7" r="4.7"/>
<circle cx="320.5" cy="1068.7" r="4.7"/>
<circle cx="235.0" cy="1084.1" r="4.7"/>
<circle cx="253.2" cy="1084.1" r="4.7"/>
<circle cx="312.0" cy="1084.1" r="4.7"/>
<circle cx="330.0" cy="1084.1" r="4.7"/>
<circle cx="141.2" cy="1099.4" r="4.7"/>
<circle cx="202.0" cy="1099.4" r="4.7"/>
<circle cx="283.2" cy="1099.4" r="4.7"/>
<circle cx="302.0" cy="1099.4" r="4.7"/>
<circle cx="183.2" cy="1114.8" r="4.7"/>
<circle cx="218.2" cy="1114.8" r="4.7"/>
<circle cx="256.2" cy="1114.8" r="4.7"/>
<circle cx="318.2" cy="1114.8" r="4.7"/>
<circle cx="331.2" cy="1114.8" r="4.7"/>
<circle cx="153.8" cy="1145.5" r="4.7"/>
<circle cx="162.5" cy="1145.5" r="4.7"/>
<circle cx="240.0" cy="1145.5" r="4.7"/>
<circle cx="248.0" cy="1145.5" r="4.7"/>
<circle cx="258.8" cy="1145.5" r="4.7"/>
<circle cx="276.2" cy="1145.5" r="4.7"/>
<circle cx="281.2" cy="1145.5" r="4.7"/>
<circle cx="296.2" cy="1145.5" r="4.7"/>
<circle cx="315.0" cy="1145.5" r="4.7"/>
<circle cx="337.5" cy="1145.5" r="4.7"/>
<circle cx="264.5" cy="838.3" r="4.7"/>
<circle cx="294.5" cy="945.8" r="4.7"/>
<circle cx="342.5" cy="945.8" r="4.7"/>
<circle cx="358.2" cy="976.5" r="4.7"/>
<circle cx="267.0" cy="991.9" r="4.7"/>
<circle cx="270.0" cy="991.9" r="4.7"/>
<circle cx="417.5" cy="991.9" r="4.7"/>
<circle cx="452.5" cy="991.9" r="4.7"/>
<circle cx="382.5" cy="1007.3" r="4.7"/>
<circle cx="396.2" cy="1007.3" r="4.7"/>
<circle cx="425.5" cy="1007.3" r="4.7"/>
<circle cx="449.2" cy="1007.3" r="4.7"/>
<circle cx="363.2" cy="1022.6" r="4.7"/>
<circle cx="393.2" cy="1022.6" r="4.7"/>
<circle cx="404.2" cy="1022.6" r="4.7"/>
<circle cx="422.5" cy="1022.6" r="4.7"/>
<circle cx="366.2" cy="1038.0" r="4.7"/>
<circle cx="380.5" cy="1038.0" r="4.7"/>
<circle cx="438.0" cy="1038.0" r="4.7"/>
<circle cx="442.0" cy="1038.0" r="4.7"/>
<circle cx="457.5" cy="1038.0" r="4.7"/>
<circle cx="398.2" cy="1053.3" r="4.7"/>
<circle cx="414.5" cy="1053.3" r="4.7"/>
<circle cx="377.0" cy="1068.7" r="4.7"/>
<circle cx="420.0" cy="1068.7" r="4.7"/>
<circle cx="444.5" cy="1068.7" r="4.7"/>
<circle cx="456.2" cy="1068.7" r="4.7"/>
<circle cx="476.2" cy="1022.6" r="4.7"/>
<circle cx="483.0" cy="1022.6" r="4.7"/>
<circle cx="490.5" cy="1022.6" r="4.7"/>
<circle cx="498.8" cy="1022.6" r="4.7"/>
<circle cx="506.2" cy="1022.6" r="4.7"/>
<circle cx="515.0" cy="1022.6" r="4.7"/>
<circle cx="519.5" cy="1022.6" r="4.7"/>
<circle cx="532.5" cy="1022.6" r="4.7"/>
<circle cx="540.0" cy="1022.6" r="4.7"/>
<circle cx="471.2" cy="1038.0" r="4.7"/>
<circle cx="492.5" cy="1038.0" r="4.7"/>
<circle cx="530.0" cy="1038.0" r="4.7"/>
<circle cx="495.0" cy="1053.3" r="4.7"/>
<circle cx="500.0" cy="1053.3" r="4.7"/>
<circle cx="463.2" cy="1068.7" r="4.7"/>
<circle cx="371.2" cy="1084.1" r="4.7"/>
<circle cx="385.5" cy="1084.1" r="4.7"/>
<circle cx="401.8" cy="1084.1" r="4.7"/>
<circle cx="412.5" cy="1084.1" r="4.7"/>
<circle cx="447.5" cy="1084.1" r="4.7"/>
<circle cx="460.5" cy="1084.1" r="4.7"/>
<circle cx="479.5" cy="1084.1" r="4.7"/>
<circle cx="540.0" cy="1084.1" r="4.7"/>
<circle cx="409.2" cy="1099.4" r="4.7"/>
<circle cx="427.5" cy="1099.4" r="4.7"/>
<circle cx="431.2" cy="1099.4" r="4.7"/>
<circle cx="436.2" cy="1099.4" r="4.7"/>
<circle cx="537.5" cy="1099.4" r="4.7"/>
<circle cx="345.0" cy="1114.8" r="4.7"/>
<circle cx="348.8" cy="1114.8" r="4.7"/>
<circle cx="353.0" cy="1114.8" r="4.7"/>
<circle cx="374.5" cy="1114.8" r="4.7"/>
<circle cx="406.2" cy="1114.8" r="4.7"/>
<circle cx="465.0" cy="1114.8" r="4.7"/>
<circle cx="468.8" cy="1114.8" r="4.7"/>
<circle cx="487.5" cy="1114.8" r="4.7"/>
<circle cx="361.2" cy="1130.1" r="4.7"/>
<circle cx="369.5" cy="1130.1" r="4.7"/>
<circle cx="431.2" cy="1130.1" r="4.7"/>
<circle cx="474.5" cy="1130.1" r="4.7"/>
<circle cx="484.5" cy="1130.1" r="4.7"/>
<circle cx="340.0" cy="1145.5" r="4.7"/>
<circle cx="355.0" cy="1145.5" r="4.7"/>
<circle cx="387.5" cy="1145.5" r="4.7"/>
<circle cx="391.2" cy="1145.5" r="4.7"/>
<circle cx="503.8" cy="1145.5" r="4.7"/>
<circle cx="522.5" cy="1145.5" r="4.7"/>
<circle cx="570.5" cy="807.6" r="4.7"/>
<circle cx="549.5" cy="869.0" r="4.7"/>
<circle cx="627.5" cy="884.4" r="4.7"/>
<circle cx="567.5" cy="899.7" r="4.7"/>
<circle cx="546.2" cy="915.1" r="4.7"/>
<circle cx="514.5" cy="930.5" r="4.7"/>
<circle cx="658.8" cy="930.5" r="4.7"/>
<circle cx="576.2" cy="945.8" r="4.7"/>
<circle cx="608.2" cy="945.8" r="4.7"/>
<circle cx="507.5" cy="961.2" r="4.7"/>
<circle cx="511.2" cy="961.2" r="4.7"/>
<circle cx="525.5" cy="961.2" r="4.7"/>
<circle cx="610.0" cy="961.2" r="4.7"/>
<circle cx="527.5" cy="976.5" r="4.7"/>
<circle cx="554.2" cy="976.5" r="4.7"/>
<circle cx="589.2" cy="976.5" r="4.7"/>
<circle cx="645.5" cy="976.5" r="4.7"/>
<circle cx="551.2" cy="991.9" r="4.7"/>
<circle cx="573.2" cy="1007.3" r="4.7"/>
<circle cx="584.2" cy="1007.3" r="4.7"/>
<circle cx="586.2" cy="1022.6" r="4.7"/>
<circle cx="592.5" cy="1022.6" r="4.7"/>
<circle cx="621.2" cy="1022.6" r="4.7"/>
<circle cx="632.5" cy="1022.6" r="4.7"/>
<circle cx="648.2" cy="1022.6" r="4.7"/>
<circle cx="593.8" cy="1038.0" r="4.7"/>
<circle cx="602.5" cy="1038.0" r="4.7"/>
<circle cx="651.2" cy="1038.0" r="4.7"/>
<circle cx="660.0" cy="1038.0" r="4.7"/>
<circle cx="557.5" cy="1053.3" r="4.7"/>
<circle cx="629.2" cy="1053.3" r="4.7"/>
<circle cx="581.2" cy="1068.7" r="4.7"/>
<circle cx="605.0" cy="1068.7" r="4.7"/>
<circle cx="612.5" cy="1068.7" r="4.7"/>
<circle cx="618.8" cy="1068.7" r="4.7"/>
<circle cx="637.5" cy="1068.7" r="4.7"/>
<circle cx="643.8" cy="1068.7" r="4.7"/>
<circle cx="675.0" cy="1022.6" r="4.7"/>
<circle cx="688.2" cy="1022.6" r="4.7"/>
<circle cx="672.5" cy="1053.3" r="4.7"/>
<circle cx="624.2" cy="1084.1" r="4.7"/>
<circle cx="635.0" cy="1084.1" r="4.7"/>
<circle cx="640.0" cy="1084.1" r="4.7"/>
<circle cx="667.5" cy="1084.1" r="4.7"/>
<circle cx="729.2" cy="1084.1" r="4.7"/>
<circle cx="559.5" cy="1099.4" r="4.7"/>
<circle cx="578.2" cy="1099.4" r="4.7"/>
<circle cx="597.5" cy="1099.4" r="4.7"/>
<circle cx="616.2" cy="1099.4" r="4.7"/>
<circle cx="652.5" cy="1099.4" r="4.7"/>
<circle cx="657.0" cy="1099.4" r="4.7"/>
<circle cx="690.8" cy="1099.4" r="4.7"/>
<circle cx="695.0" cy="1099.4" r="4.7"/>
<circle cx="565.5" cy="1130.1" r="4.7"/>
<circle cx="600.5" cy="1130.1" r="4.7"/>
<circle cx="562.5" cy="1145.5" r="4.7"/>
<circle cx="702.5" cy="853.7" r="4.7"/>
<circle cx="696.2" cy="869.0" r="4.7"/>
<circle cx="739.5" cy="869.0" r="4.7"/>
<circle cx="683.2" cy="884.4" r="4.7"/>
<circle cx="726.2" cy="884.4" r="4.7"/>
<circle cx="772.5" cy="884.4" r="4.7"/>
<circle cx="678.0" cy="899.7" r="4.7"/>
<circle cx="686.8" cy="899.7" r="4.7"/>
<circle cx="704.5" cy="915.1" r="4.7"/>
<circle cx="755.0" cy="915.1" r="4.7"/>
<circle cx="699.2" cy="930.5" r="4.7"/>
<circle cx="733.2" cy="930.5" r="4.7"/>
<circle cx="737.5" cy="930.5" r="4.7"/>
<circle cx="782.0" cy="930.5" r="4.7"/>
<circle cx="670.0" cy="961.2" r="4.7"/>
<circle cx="714.2" cy="976.5" r="4.7"/>
<circle cx="718.8" cy="976.5" r="4.7"/>
<circle cx="731.2" cy="976.5" r="4.7"/>
<circle cx="745.5" cy="976.5" r="4.7"/>
<circle cx="784.5" cy="976.5" r="4.7"/>
<circle cx="723.2" cy="991.9" r="4.7"/>
<circle cx="769.2" cy="1068.7" r="4.7"/>
<circle cx="766.2" cy="1084.1" r="4.7"/>
<circle cx="747.0" cy="1099.4" r="4.7"/>
<circle cx="751.2" cy="1099.4" r="4.7"/>
<circle cx="777.5" cy="1145.5" r="4.7"/>
<circle cx="780.5" cy="592.5" r="4.7"/>
<circle cx="753.2" cy="638.6" r="4.7"/>
<circle cx="758.2" cy="684.7" r="4.7"/>
<circle cx="774.2" cy="746.1" r="4.7"/>
<circle cx="742.5" cy="761.5" r="4.7"/>
<circle cx="680.5" cy="822.9" r="4.7"/>
<circle cx="764.2" cy="822.9" r="4.7"/>
<circle cx="664.2" cy="838.3" r="4.7"/>
<circle cx="721.2" cy="838.3" r="4.7"/>
<circle cx="761.2" cy="838.3" r="4.7"/>
</g>
</g>
<rect x="60.50" y="592.50" width="725.00" height="553.00" fill="none" stroke="#000" stroke-width="1.11"/>
<line x1="55.64" x2="60.50" y1="1145.50" y2="1145.50" stroke="#000" stroke-width="1.11"/>
<text x="50.80" y="1150.80" text-anchor="end" font-size="13.89">0</text>
<line x1="55.64" x2="60.50" y1="1068.50" y2="1068.50" stroke="#000" stroke-width="1.11"/>
<text x="50.80" y="1074.00" text-anchor="end" font-size="13.89">5</text>
<line x1="55.64" x2="60.50" y1="991.50" y2="991.50" stroke="#000" stroke-width="1.11"/>
<text x="50.80" y="997.20" text-anchor="end" font-size="13.89">10</text>
<line x1="55.64" x2="60.50" y1="915.50" y2="915.50" stroke="#000" stroke-width="1.11"/>
<text x="50.80" y="920.40" text-anchor="end" font-size="13.89">15</text>
<line x1="55.64" x2="60.50" y1="838.50" y2="838.50" stroke="#000" stroke-width="1.11"/>
<text x="50.80" y="843.60" text-anchor="end" font-size="13.89">20</text>
<line x1="55.64" x2="60.50" y1="761.50" y2="761.50" stroke="#000" stroke-width="1.11"/>
<text x="50.80" y="766.80" text-anchor="end" font-size="13.89">25</text>
<line x1="55.64" x2="60.50" y1="684.50" y2="684.50" stroke="#000" stroke-width="1.11"/>
<text x="50.80" y="690.00" text-anchor="end" font-size="13.89">30</text>
<line x1="55.64" x2="60.50" y1="607.50" y2="607.50" stroke="#000" stroke-width="1.11"/>
<text x="50.80" y="613.20" text-anchor="end" font-size="13.89">35</text>
<line x1="60.50" x2="60.50" y1="1145.50" y2="1150.86" stroke="#000" stroke-width="1.11"/>
<line x1="74.50" x2="74.50" y1="1145.50" y2="1148.78" stroke="#000" stroke-width="0.9"/>
<line x1="92.50" x2="92.50" y1="1145.50" y2="1148.78" stroke="#000" stroke-width="0.9"/>
<line x1="111.50" x2="111.50" y1="1145.50" y2="1148.78" stroke="#000" stroke-width="0.9"/>
<line x1="130.50" x2="130.50" y1="1145.50" y2="1148.78" stroke="#000" stroke-width="0.9"/>
<line x1="135.50" x2="135.50" y1="1145.50" y2="1150.86" stroke="#000" stroke-width="1.11"/>
<line x1="149.50" x2="149.50" y1="1145.50" y2="1148.78" stroke="#000" stroke-width="0.9"/>
<line x1="168.50" x2="168.50" y1="1145.50" y2="1148.78" stroke="#000" stroke-width="0.9"/>
<line x1="186.50" x2="186.50" y1="1145.50" y2="1148.78" stroke="#000" stroke-width="0.9"/>
<line x1="205.50" x2="205.50" y1="1145.50" y2="1148.78" stroke="#000" stroke-width="0.9"/>
<line x1="216.50" x2="216.50" y1="1145.50" y2="1150.86" stroke="#000" stroke-width="1.11"/>
<line x1="224.50" x2="224.50" y1="1145.50" y2="1148.78" stroke="#000" stroke-width="0.9"/>
<line x1="243.50" x2="243.50" y1="1145.50" y2="1148.78" stroke="#000" stroke-width="0.9"/>
<line x1="262.50" x2="262.50" y1="1145.50" y2="1148.78" stroke="#000" stroke-width="0.9"/>
<line x1="280.50" x2="280.50" y1="1145.50" y2="1148.78" stroke="#000" stroke-width="0.9"/>
<line x1="299.50" x2="299.50" y1="1145.50" y2="1150.86" stroke="#000" stroke-width="1.11"/>
<line x1="318.50" x2="318.50" y1="1145.50" y2="1148.78" stroke="#000" stroke-width="0.9"/>
<line x1="337.50" x2="337.50" y1="1145.50" y2="1148.78" stroke="#000" stroke-width="0.9"/>
<line x1="356.50" x2="356.50" y1="1145.50" y2="1148.78" stroke="#000" stroke-width="0.9"/>
<line x1="374.50" x2="374.50" y1="1145.50" y2="1148.78" stroke="#000" stroke-width="0.9"/>
<line x1="380.50" x2="380.50" y1="1145.50" y2="1150.86" stroke="#000" stroke-width="1.11"/>
<line x1="393.50" x2="393.50" y1="1145.50" y2="1148.78" stroke="#000" stroke-width="0.9"/>
<line x1="412.50" x2="412.50" y1="1145.50" y2="1148.78" stroke="#000" stroke-width="0.9"/>
<line x1="431.50" x2="431.50" y1="1145.50" y2="1148.78" stroke="#000" stroke-width="0.9"/>
<line x1="449.50" x2="449.50" y1="1145.50" y2="1148.78" stroke="#000" stroke-width="0.9"/>
<line x1="463.50" x2="463.50" y1="1145.50" y2="1150.86" stroke="#000" stroke-width="1.11"/>
<line x1="468.50" x2="468.50" y1="1145.50" y2="1148.78" stroke="#000" stroke-width="0.9"/>
<line x1="487.50" x2="487.50" y1="1145.50" y2="1148.78" stroke="#000" stroke-width="0.9"/>
<line x1="506.50" x2="506.50" y1="1145.50" y2="1148.78" stroke="#000" stroke-width="0.9"/>
<line x1="525.50" x2="525.50" y1="1145.50" y2="1148.78" stroke="#000" stroke-width="0.9"/>
<line x1="543.50" x2="543.50" y1="1145.50" y2="1148.78" stroke="#000" stroke-width="0.9"/>
<line x1="546.50" x2="546.50" y1="1145.50" y2="1150.86" stroke="#000" stroke-width="1.11"/>
<line x1="562.50" x2="562.50" y1="1145.50" y2="1148.78" stroke="#000" stroke-width="0.9"/>
<line x1="581.50" x2="581.50" y1="1145.50" y2="1148.78" stroke="#000" stroke-width="0.9"/>
<line x1="600.50" x2="600.50" y1="1145.50" y2="1148.78" stroke="#000" stroke-width="0.9"/>
<line x1="619.50" x2="619.50" y1="1145.50" y2="1148.78" stroke="#000" stroke-width="0.9"/>
<line x1="627.50" x2="627.50" y1="1145.50" y2="1150.86" stroke="#000" stroke-width="1.11"/>
<line x1="637.50" x2="637.50" y1="1145.50" y2="1148.78" stroke="#000" stroke-width="0.9"/>
<line x1="656.50" x2="656.50" y1="1145.50" y2="1148.78" stroke="#000" stroke-width="0.9"/>
<line x1="675.50" x2="675.50" y1="1145.50" y2="1148.78" stroke="#000" stroke-width="0.9"/>
<line x1="694.50" x2="694.50" y1="1145.50" y2="1148.78" stroke="#000" stroke-width="0.9"/>
<line x1="710.50" x2="710.50" y1="1145.50" y2="1150.86" stroke="#000" stroke-width="1.11"/>
<line x1="713.50" x2="713.50" y1="1145.50" y2="1148.78" stroke="#000" stroke-width="0.9"/>
<line x1="731.50" x2="731.50" y1="1145.50" y2="1148.78" stroke="#000" stroke-width="0.9"/>
<line x1="750.50" x2="750.50" y1="1145.50" y2="1148.78" stroke="#000" stroke-width="0.9"/>
<line x1="769.50" x2="769.50" y1="1145.50" y2="1148.78" stroke="#000" stroke-width="0.9"/>
<line x1="785.50" x2="785.50" y1="1145.50" y2="1148.78" stroke="#000" stroke-width="0.9"/>
<text x="135.91" y="1166.10" text-anchor="middle" font-size="13.89">Apr</text>
<text x="135.91" y="1181.70" text-anchor="middle" font-size="13.89">2020</text>
<text x="216.44" y="1166.10" text-anchor="middle" font-size="13.89">May</text>
<text x="299.65" y="1166.10" text-anchor="middle" font-size="13.89">Jun</text>
<text x="380.18" y="1166.10" text-anchor="middle" font-size="13.89">Jul</text>
<text x="463.39" y="1166.10" text-anchor="middle" font-size="13.89">Aug</text>
<text x="546.60" y="1166.10" text-anchor="middle" font-size="13.89">Sep</text>
<text x="627.13" y="1166.10" text-anchor="middle" font-size="13.89">Oct</text>
<text x="710.34" y="1166.10" text-anchor="middle" font-size="13.89">Nov</text>
<rect x="67.44" y="599.00" width="136.01" height="25.5" rx="2.8" fill="#fff" fill-opacity="0.8" stroke="#ccc" stroke-opacity="0.8" stroke-width="1.11"/>
<line x1="73.00" x2="100.78" y1="610.75" y2="610.75" stroke="#1f77b4" stroke-width="2.08" stroke-linecap="square"/>
<text x="110.99" y="614.60" font-size="13.89">daily deaths</text>
<text x="397.5" y="35.8" text-anchor="middle" font-size="16.67">Kentucky 28 days</text>
</svg>
</body></html>
